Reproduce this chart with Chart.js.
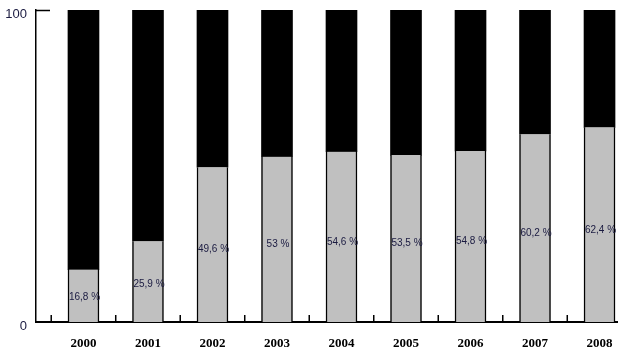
<!DOCTYPE html>
<html>
<head>
<meta charset="utf-8">
<script src="https://cdn.jsdelivr.net/npm/chart.js@4"></script>
<style>
  html, body { margin: 0; padding: 0; background: #fff; }
  #wrap { width: 625px; height: 361px; }
</style>
</head>
<body>
<div id="wrap"><canvas id="chart"></canvas></div>
<script>
// Anos e percentuais (parte cinza)
const years = ['2000', '2001', '2002', '2003', '2004', '2005', '2006', '2007', '2008'];
const shares = [16.8, 25.9, 49.6, 53, 54.6, 53.5, 54.8, 60.2, 62.4];
const shareLabels = ['16,8 %', '25,9 %', '49,6 %', '53 %', '54,6 %', '53,5 %', '54,8 %', '60,2 %', '62,4 %'];
const yTicks = [0, 100];

// resto até 100 (parte preta)
const rest = shares.map(v => 100 - v);

// Rótulos dentro das barras + marcas do eixo
const extras = {
  id: 'extras',
  afterDatasetsDraw(chart) {
    const ctx = chart.ctx;
    const x = chart.scales.x;
    const y = chart.scales.y;
    ctx.save();
    ctx.font = '10px "Liberation Sans", Arial, sans-serif';
    ctx.fillStyle = '#1a1a40';
    ctx.textAlign = 'center';
    ctx.textBaseline = 'middle';
    shares.forEach((v, i) => {
      ctx.fillText(shareLabels[i], x.getPixelForValue(i) + 1, y.getPixelForValue(v * 0.47));
    });
    // marcas entre as barras, para cima
    ctx.strokeStyle = '#000';
    ctx.lineWidth = 1.5;
    ctx.beginPath();
    for (let i = 0; i < years.length; i++) {
      const px = x.getPixelForValue(i - 0.5);
      ctx.moveTo(px, y.bottom);
      ctx.lineTo(px, y.bottom - 7);
    }
    // marca no 100
    const top = y.getPixelForValue(100);
    ctx.moveTo(x.left, top + 0.5);
    ctx.lineTo(x.left + 14, top + 0.5);
    ctx.stroke();
    ctx.restore();
  }
};

new Chart(document.getElementById('chart'), {
  type: 'bar',
  data: {
    datasets: [{
      data: shares.map((v, i) => ({ x: i, y: v })),
      backgroundColor: '#c0c0c0',
      borderColor: '#000',
      borderWidth: { left: 1.5, right: 1.5, top: 0, bottom: 0 },
      borderSkipped: false,
      barThickness: 31
    }, {
      data: rest.map((v, i) => ({ x: i, y: v })),
      backgroundColor: '#000',
      borderWidth: 0,
      barThickness: 31
    }]
  },
  options: {
    responsive: true,
    maintainAspectRatio: false,
    animation: false,
    layout: { padding: { top: 10, right: 8, left: 0, bottom: 0 } },
    plugins: {
      legend: { display: false },
      tooltip: { enabled: false }
    },
    scales: {
      x: {
        type: 'linear',
        stacked: true,
        offset: false,
        min: -0.736,
        max: 8.271,
        afterBuildTicks: scale => { scale.ticks = years.map((_, i) => ({ value: i })); },
        afterFit: scale => {
          scale.height = 39;
          scale.paddingLeft = 0;
          scale.paddingRight = 0;
        },
        ticks: {
          autoSkip: false,
          maxRotation: 0,
          padding: 14,
          color: '#000',
          font: { family: '"Liberation Serif", "Times New Roman", serif', size: 13, weight: 'bold' },
          callback: (val, idx) => years[idx]
        },
        grid: { display: false, drawTicks: false },
        border: { display: true, color: '#000', width: 2 }
      },
      y: {
        stacked: true,
        min: 0,
        max: 100,
        afterBuildTicks: scale => { scale.ticks = yTicks.map(v => ({ value: v })); },
        afterFit: scale => {
          scale.width = 36;
          scale.paddingTop = 0;
          scale.paddingBottom = 0;
        },
        ticks: {
          padding: 9,
          labelOffset: 4,
          color: '#1a1a40',
          font: { family: '"Liberation Sans", Arial, sans-serif', size: 13 }
        },
        grid: { display: false, drawTicks: false },
        border: { display: true, color: '#000', width: 1.5 }
      }
    }
  },
  plugins: [extras]
});
</script>
</body>
</html>
